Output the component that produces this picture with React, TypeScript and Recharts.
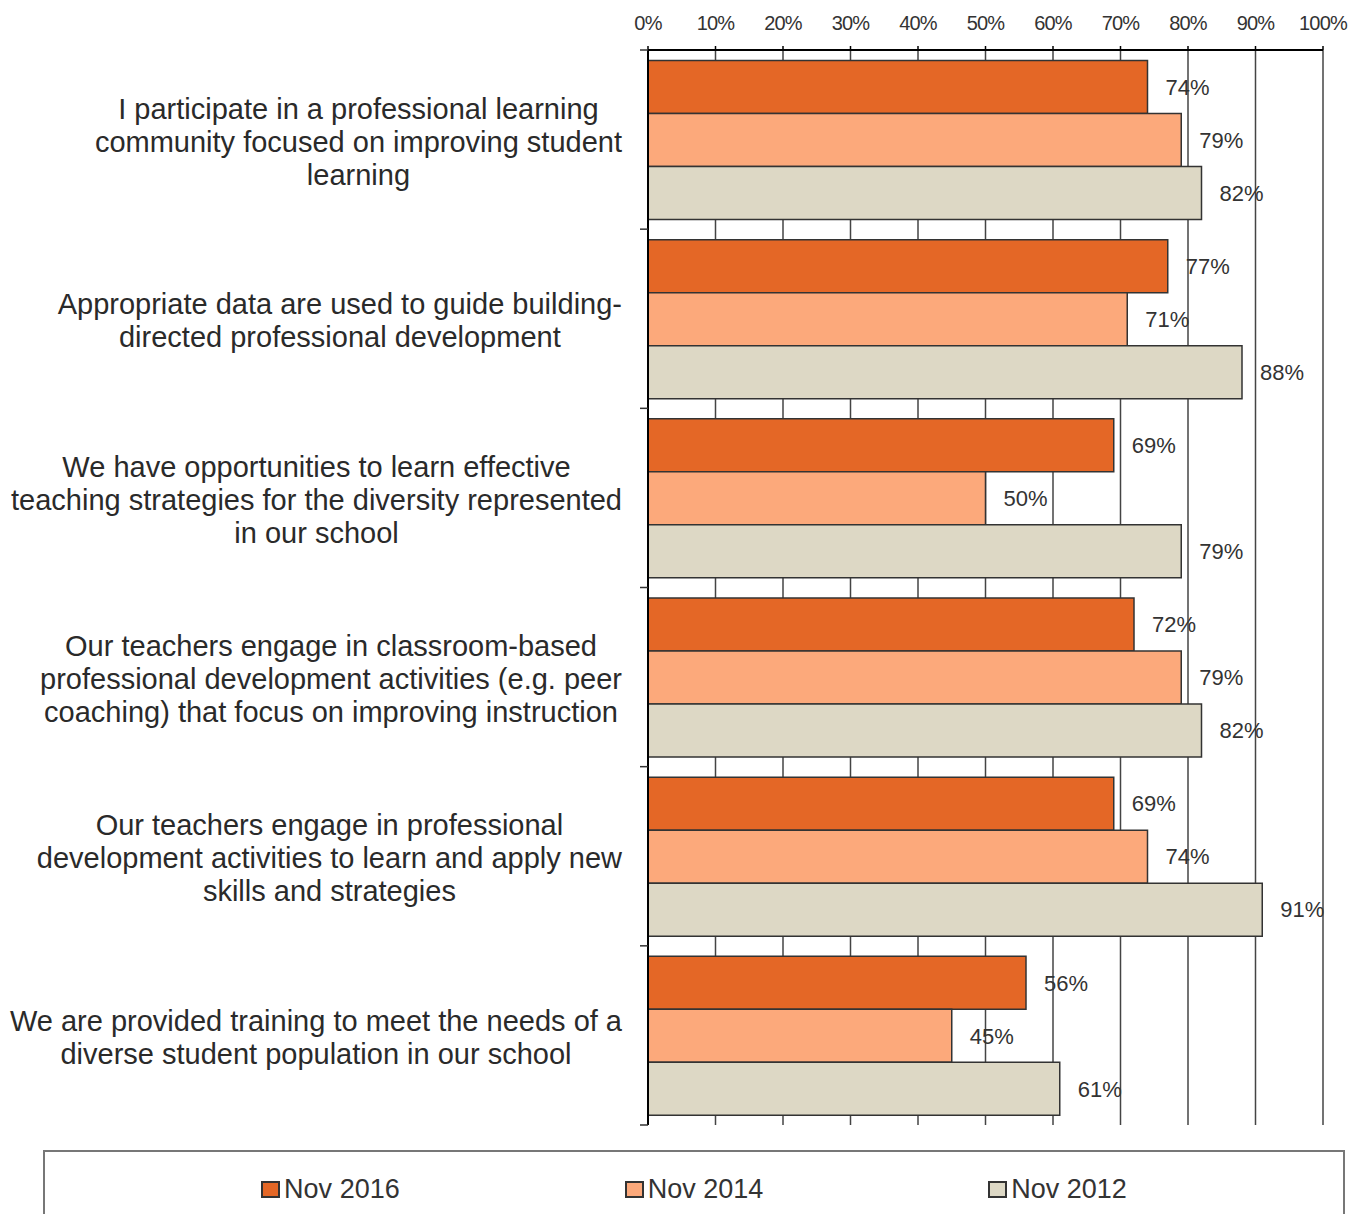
import React from 'react';
import { BarChart, Bar, XAxis, YAxis, CartesianGrid, LabelList, Legend } from 'recharts';

const categoryLines: string[][] = [
  ['I participate in a professional learning', 'community focused on improving student', 'learning'],
  ['Appropriate data are used to guide building-', 'directed professional development'],
  ['We have opportunities to learn effective', 'teaching strategies for the diversity represented', 'in our school'],
  ['Our teachers engage in classroom-based', 'professional development activities (e.g. peer', 'coaching) that focus on improving instruction'],
  ['Our teachers engage in professional', 'development activities to learn and apply new', 'skills and strategies'],
  ['We are provided training to meet the needs of a', 'diverse student population in our school'],
];
const categories = categoryLines.map((l) => l.join(' '));

const nov2016 = [74, 77, 69, 72, 69, 56];
const nov2014 = [79, 71, 50, 79, 74, 45];
const nov2012 = [82, 88, 79, 82, 91, 61];

const xTicks = [0, 10, 20, 30, 40, 50, 60, 70, 80, 90, 100];
const seriesKeys = ['s2016', 's2014', 's2012'];
const seriesNames = ['Nov 2016', 'Nov 2014', 'Nov 2012'];
const seriesColors = ['#E46726', '#FCA97B', '#DDD8C5'];

const data = categories.map((c, i) => ({
  category: c,
  s2016: nov2016[i],
  s2014: nov2014[i],
  s2012: nov2012[i],
}));

const W = 1357;
const H = 1214;
const PLOT_TOP = 50;
const PLOT_BOTTOM = 1125;
const BAND = (PLOT_BOTTOM - PLOT_TOP) / categories.length;
const TICK_MARGIN = 26;
const LABEL_FS = 29;
const FONT = '"Liberation Sans", Arial, sans-serif';

let ctx: CanvasRenderingContext2D | null = null;
function measure(text: string, font: string): number {
  if (!ctx) ctx = document.createElement('canvas').getContext('2d');
  if (!ctx) return text.length * 14;
  ctx.font = font;
  return ctx.measureText(text).width;
}

const CategoryTick = (props: any) => {
  const { x, y, payload } = props;
  const idx = categories.indexOf(payload.value);
  const lines = idx >= 0 ? categoryLines[idx] : [String(payload.value)];
  const font = `${LABEL_FS}px "Liberation Sans"`;
  const maxW = Math.max(...lines.map((l) => measure(l, font)));
  const cx = x - maxW / 2;
  const lh = 33;
  const startY = y + 2 - ((lines.length - 1) * lh) / 2;
  const axisX = x + TICK_MARGIN;
  const half = BAND / 2;
  return (
    <g>
      {lines.map((l, i) => (
        <text
          key={i}
          x={cx}
          y={startY + i * lh}
          textAnchor="middle"
          dominantBaseline="central"
          fontSize={LABEL_FS}
          fontFamily={FONT}
          fill="#2a2a2a"
        >
          {l}
        </text>
      ))}
      <line x1={axisX - 8} x2={axisX} y1={y - half} y2={y - half} stroke="#333" strokeWidth={1.5} />
      {idx === categories.length - 1 && (
        <line x1={axisX - 8} x2={axisX} y1={y + half} y2={y + half} stroke="#333" strokeWidth={1.5} />
      )}
    </g>
  );
};

const renderLegend = (props: any) => {
  const payload = [...((props && props.payload) || [])].sort(
    (a: any, b: any) => seriesNames.indexOf(a.value) - seriesNames.indexOf(b.value)
  );
  return (
    <div
      style={{
        boxSizing: 'border-box',
        width: 1302,
        height: 70,
        border: '2px solid #777',
        display: 'flex',
        justifyContent: 'center',
        alignItems: 'flex-start',
        gap: 225,
        paddingTop: 21,
        fontFamily: FONT,
        fontSize: 27,
        color: '#333',
        background: '#fff',
      }}
    >
      {payload.map((p: any) => (
        <div key={p.value} style={{ display: 'flex', alignItems: 'center', lineHeight: '32px' }}>
          <span
            style={{
              display: 'inline-block',
              boxSizing: 'border-box',
              width: 19,
              height: 17,
              background: p.color,
              border: '2px solid #333',
              marginRight: 4,
            }}
          />
          {p.value}
        </div>
      ))}
    </div>
  );
};

export default function App() {
  return (
    <div
      style={{
        position: 'absolute',
        left: 0,
        top: 0,
        width: W,
        height: H,
        overflow: 'hidden',
        background: '#fff',
      }}
    >
      <BarChart
        width={W}
        height={H}
        data={data}
        layout="vertical"
        margin={{ top: 0, right: 34, bottom: 19, left: 0 }}
        barCategoryGap={10.5}
        barGap={0}
      >
        <CartesianGrid horizontal={false} vertical stroke="#444" strokeWidth={1.5} />
        <XAxis
          xAxisId={0}
          type="number"
          orientation="top"
          domain={[0, 100]}
          ticks={xTicks}
          interval={0}
          height={50}
          tickFormatter={(v: number) => `${v}%`}
          axisLine={{ stroke: '#000', strokeWidth: 2 }}
          tickLine={{ stroke: '#000', strokeWidth: 1.5 }}
          tickSize={4}
          tickMargin={16}
          tick={{ fontSize: 20, fill: '#333', fontFamily: FONT, letterSpacing: -0.8 }}
        />
        <XAxis
          xAxisId="bottom"
          type="number"
          orientation="bottom"
          domain={[0, 100]}
          ticks={xTicks}
          height={0}
          tick={false}
          tickLine={false}
          axisLine={{ stroke: '#999', strokeWidth: 2 }}
        />
        <YAxis
          type="category"
          dataKey="category"
          width={648}
          interval={0}
          tickSize={0}
          tickMargin={TICK_MARGIN}
          tickLine={false}
          axisLine={{ stroke: '#000', strokeWidth: 2 }}
          tick={<CategoryTick />}
        />
        {seriesKeys.map((k, i) => (
          <Bar
            key={k}
            dataKey={k}
            name={seriesNames[i]}
            fill={seriesColors[i]}
            stroke="#333"
            strokeWidth={1.5}
            xAxisId={0}
            isAnimationActive={false}
          >
            <LabelList
              dataKey={k}
              position="right"
              offset={18}
              formatter={(v: any) => `${v}%`}
              fill="#333"
              fontSize={22}
              fontFamily={FONT}
            />
          </Bar>
        ))}
        <Legend
          verticalAlign="bottom"
          content={renderLegend}
          wrapperStyle={{ left: 43, top: 1150, bottom: 'auto', width: 1302, height: 70 }}
        />
      </BarChart>
    </div>
  );
}
